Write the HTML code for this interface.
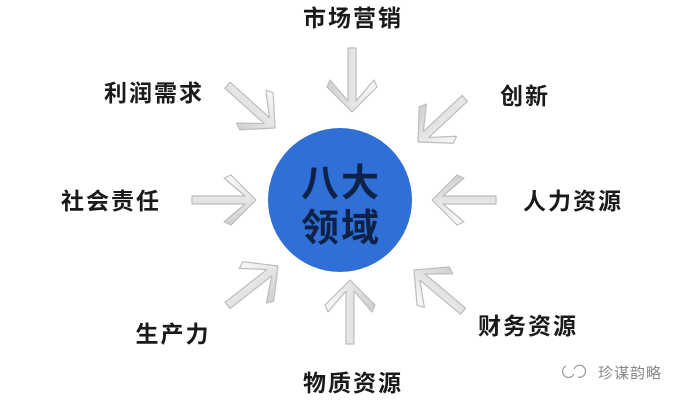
<!DOCTYPE html>
<html><head><meta charset="utf-8"><style>
body{margin:0;background:#fff;width:680px;height:400px;overflow:hidden}
svg text{font-family:"Liberation Sans","Noto Sans CJK SC",sans-serif;font-weight:bold;fill:#1a1a1a;letter-spacing:2px}
</style></head><body>
<svg width="680" height="400" viewBox="0 0 680 400">
<defs>
<linearGradient id="g" x1="0" y1="0" x2="0" y2="1"><stop offset="0" stop-color="#f9f9f9"/><stop offset="1" stop-color="#d0d0d0"/></linearGradient>
<g id="a">
<path d="M-64,-4 L-11,-4 L-32,-22 L-25,-25 L0,0 L-25,25 L-32,22 L-11,4 L-64,4 Z" fill="url(#g)" stroke="#bdbdbd" stroke-width="1.2" stroke-linejoin="round"/>
</g>
</defs>
<use href="#a" transform="translate(352,112) rotate(90)"/>
<use href="#a" transform="translate(275,128) rotate(42)"/>
<use href="#a" transform="translate(418,142) rotate(137)"/>
<use href="#a" transform="translate(256,200) rotate(0)"/>
<use href="#a" transform="translate(432,200) rotate(180)"/>
<use href="#a" transform="translate(278,266) rotate(-38)"/>
<use href="#a" transform="translate(350,280) rotate(-90)"/>
<use href="#a" transform="translate(414,270) rotate(-140)"/>
<circle cx="340" cy="200" r="72" fill="#2f6fd6"/>
<text x="341" y="196" font-size="38" text-anchor="middle" style="fill:#0e2148">八大</text>
<text x="341" y="241" font-size="38" text-anchor="middle" style="fill:#0e2148">领域</text>
<text x="353" y="26" font-size="23" text-anchor="middle">市场营销</text>
<text x="154" y="101" font-size="23" text-anchor="middle">利润需求</text>
<text x="525" y="104" font-size="23" text-anchor="middle">创新</text>
<text x="111" y="209" font-size="23" text-anchor="middle">社会责任</text>
<text x="573" y="209" font-size="23" text-anchor="middle">人力资源</text>
<text x="173" y="342" font-size="23" text-anchor="middle">生产力</text>
<text x="528" y="334" font-size="23" text-anchor="middle">财务资源</text>
<text x="353" y="391" font-size="23" text-anchor="middle">物质资源</text>
<text x="630" y="378" font-size="15" text-anchor="middle" style="fill:#888;font-weight:normal;letter-spacing:1px">珍谋韵略</text>
<path d="M566,366 a6,6 0 1 0 8,8 M574,369 a6,6 0 1 1 4,8" stroke="#999" fill="none" stroke-width="1.2"/>
</svg>
</body></html>
